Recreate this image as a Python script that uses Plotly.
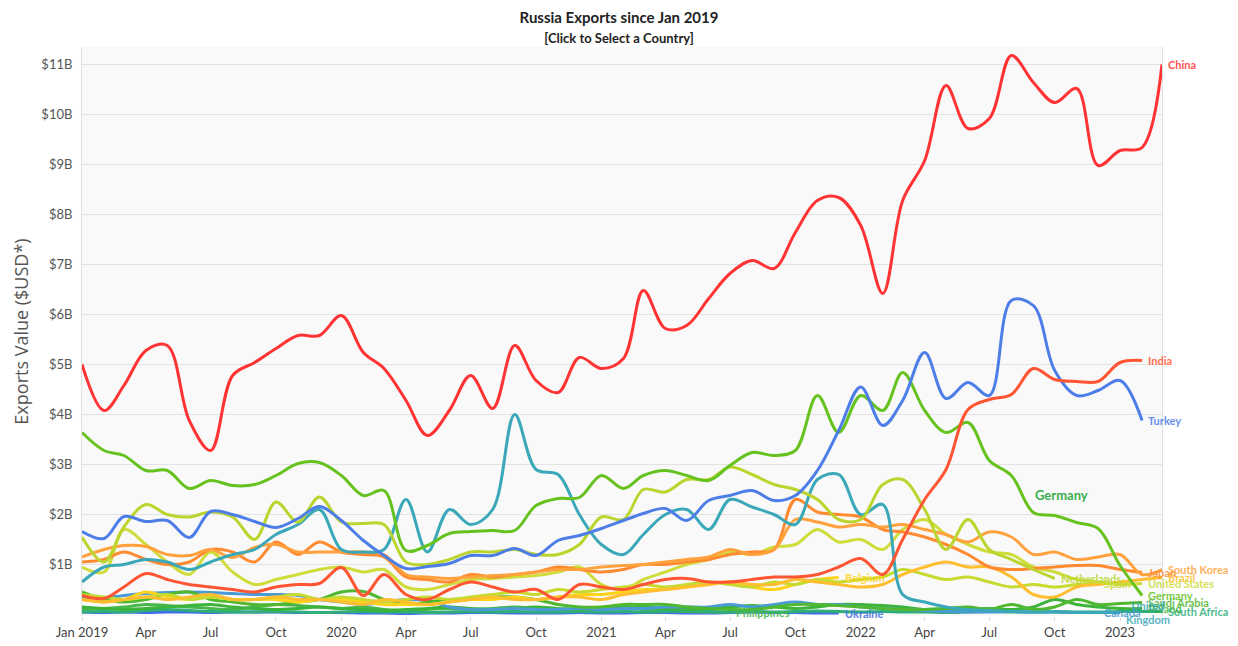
import pandas as pd
import plotly.graph_objects as go

# ---- data (USD billions, monthly from Jan 2019) ----
china = [5.0,4.08,4.58,5.28,5.38,3.88,3.28,4.78,5.04,5.32,5.58,5.58,5.98,5.24,4.92,4.28,3.58,4.08,4.78,4.12,5.38,4.68,4.44,5.14,
         4.92,5.12,6.48,5.72,5.78,6.32,6.82,7.08,6.92,7.64,8.28,8.34,7.78,6.42,8.28,9.08,10.58,9.72,9.92,11.18,10.64,10.24,10.52,8.98,
         9.28,9.34,11.0]
india = [0.38,0.32,0.55,0.82,0.7,0.6,0.55,0.5,0.45,0.55,0.6,0.62,0.94,0.38,0.8,0.4,0.3,0.5,0.65,0.55,0.45,0.5,0.3,0.6,
         0.55,0.5,0.6,0.7,0.72,0.65,0.65,0.7,0.75,0.75,0.8,0.95,1.12,0.8,1.5,2.3,2.9,4.1,4.3,4.4,4.92,4.7,4.66,4.66,5.04,5.08]
turkey = [1.66,1.52,1.96,1.86,1.88,1.54,2.06,2.0,1.86,1.74,1.92,2.16,1.88,1.48,1.18,0.92,0.96,1.02,1.18,1.18,1.32,1.18,1.48,1.58,
          1.72,1.88,2.02,2.12,1.88,2.28,2.38,2.48,2.28,2.38,2.88,3.68,4.55,3.78,4.28,5.24,4.32,4.64,4.38,6.28,6.18,4.88,4.38,4.48,4.68,3.88]
germany = [3.64,3.28,3.18,2.88,2.88,2.52,2.68,2.58,2.6,2.78,3.02,3.04,2.78,2.38,2.48,1.28,1.38,1.62,1.66,1.68,1.68,2.18,2.32,2.34,
           2.78,2.52,2.78,2.88,2.78,2.68,2.98,3.24,3.18,3.28,4.38,3.64,4.38,4.08,4.84,4.08,3.64,3.84,3.08,2.78,2.04,1.98,1.84,1.72,0.98,0.38]
netherlands = [1.55,1.05,1.75,2.2,2.0,1.95,2.05,1.95,1.5,2.25,1.85,2.35,1.85,1.82,1.8,1.05,1.0,1.1,1.25,1.25,1.3,1.2,1.2,1.4,
               1.95,1.9,2.5,2.45,2.7,2.7,2.95,2.8,2.6,2.5,2.3,1.9,1.9,2.6,2.7,2.1,1.3,1.9,1.3,1.1,0.9,0.72]
united_states = [0.95,0.85,1.7,1.4,1.05,0.8,1.25,0.85,0.6,0.7,0.8,0.9,0.95,0.85,0.9,0.55,0.5,0.6,0.7,0.72,0.75,0.78,0.85,0.95,
                 0.6,0.5,0.7,0.85,1.0,1.1,1.25,1.2,1.35,1.4,1.7,1.45,1.5,1.3,1.7,1.9,1.6,1.4,1.25,1.2,0.95,0.85,0.7,0.65,0.6,0.62]
spain = [0.4,0.35,0.3,0.35,0.4,0.3,0.35,0.3,0.3,0.35,0.4,0.3,0.35,0.3,0.25,0.3,0.35,0.3,0.35,0.4,0.45,0.4,0.5,0.45,
         0.5,0.55,0.6,0.55,0.6,0.65,0.6,0.55,0.65,0.6,0.7,0.65,0.7,0.75,0.9,0.8,0.7,0.75,0.65,0.55,0.6,0.55,0.6,0.62]
south_korea = [1.15,1.3,1.38,1.36,1.2,1.18,1.3,1.14,1.34,1.4,1.25,1.25,1.25,1.25,1.2,0.8,0.75,0.72,0.75,0.78,0.8,0.85,0.9,0.9,
               0.95,0.98,1.0,1.05,1.1,1.15,1.3,1.2,1.3,1.9,1.85,1.75,1.8,1.75,1.8,1.7,1.6,1.45,1.65,1.55,1.2,1.25,1.1,1.15,1.2,0.8,0.9]
japan = [1.05,1.1,1.25,1.1,1.0,1.05,1.3,1.25,1.05,1.45,1.2,1.45,1.25,1.2,1.15,0.75,0.7,0.65,0.8,0.75,0.8,0.85,0.95,0.9,
         0.85,0.9,1.0,1.0,1.05,1.1,1.2,1.25,1.3,2.3,2.05,2.0,1.95,1.7,1.65,1.55,1.4,1.2,0.95,0.9,0.92,0.95,0.98,0.98,0.9,0.84]
brazil = [0.3,0.25,0.3,0.35,0.3,0.35,0.4,0.3,0.3,0.35,0.3,0.3,0.25,0.2,0.3,0.25,0.2,0.25,0.3,0.35,0.3,0.3,0.35,0.35,
          0.3,0.4,0.45,0.5,0.55,0.6,0.65,0.6,0.6,0.7,0.65,0.6,0.55,0.6,0.8,0.95,1.05,0.95,0.95,0.75,0.4,0.35,0.55,0.6,0.65,0.7,0.74]
belgium = [0.3,0.25,0.3,0.45,0.35,0.3,0.35,0.3,0.3,0.3,0.25,0.3,0.3,0.25,0.2,0.2,0.2,0.25,0.3,0.3,0.35,0.3,0.35,0.4,
           0.4,0.45,0.5,0.5,0.55,0.6,0.65,0.55,0.5,0.6,0.7,0.74]
united_kingdom = [0.65,0.95,1.0,1.1,1.05,0.9,1.05,1.2,1.3,1.6,1.8,2.1,1.3,1.25,1.3,2.3,1.25,2.1,1.8,2.1,4.0,2.9,2.8,2.0,
                  1.4,1.2,1.6,2.0,2.1,1.7,2.3,2.15,2.0,1.8,2.7,2.8,2.0,2.2,0.4,0.25,0.15,0.1,0.08,0.06,0.05,0.05,0.04,0.04,0.04]
canada = [0.35,0.33,0.38,0.42,0.44,0.45,0.44,0.42,0.4,0.4,0.38,0.3,0.25,0.2,0.25,0.3,0.28,0.15,0.1,0.1,0.12,0.1,0.1,0.12,
          0.1,0.12,0.12,0.15,0.15,0.15,0.2,0.15,0.2,0.25,0.2,0.2,0.15,0.12,0.1,0.08,0.06,0.05,0.05,0.06,0.05,0.05,0.04,0.04]
saudi_arabia = [0.45,0.3,0.25,0.3,0.4,0.45,0.3,0.25,0.2,0.2,0.25,0.3,0.45,0.46,0.3,0.2,0.25,0.3,0.32,0.35,0.35,0.3,0.2,0.15,
                0.15,0.2,0.2,0.2,0.15,0.12,0.1,0.1,0.15,0.2,0.2,0.18,0.15,0.12,0.1,0.1,0.12,0.15,0.1,0.2,0.1,0.15,0.3,0.2,0.22,0.24]
poland = [0.15,0.12,0.1,0.12,0.15,0.18,0.2,0.15,0.12,0.1,0.12,0.15,0.12,0.1,0.08,0.1,0.12,0.15,0.12,0.1,0.12,0.15,0.12,0.1,
          0.12,0.15,0.15,0.12,0.1,0.12,0.15,0.18,0.15,0.12,0.15,0.2,0.2,0.18,0.15,0.1,0.08,0.1,0.12,0.1,0.15,0.3,0.2,0.15,0.12,0.12]
south_africa = [0.05,0.06,0.05,0.08,0.1,0.08,0.06,0.05,0.05,0.06,0.05,0.04,0.05,0.06,0.05,0.05,0.04,0.05,0.06,0.05,0.06,0.05,0.05,0.06,
                0.05,0.06,0.05,0.06,0.07,0.06,0.05,0.06,0.05,0.06,0.07,0.06,0.05,0.06,0.05,0.05,0.04,0.05,0.06,0.05,0.05,0.06,0.05,0.05,0.06,0.06,0.06]
philippines = [0.1,0.12,0.15,0.2,0.18,0.15,0.12,0.1,0.15,0.2,0.18,0.15,0.12,0.15,0.1,0.08,0.1,0.12,0.1,0.12,0.15,0.12,0.1,0.08,
               0.1,0.12,0.1,0.08,0.06,0.05,0.05]
ukraine = [0.05,0.04,0.05,0.04,0.05,0.05,0.04,0.05,0.05,0.05,0.04,0.04,0.04,0.03,0.03,0.02,0.03,0.03,0.04,0.04,0.03,0.03,0.03,0.04,
           0.03,0.03,0.04,0.04,0.03,0.03,0.04,0.05,0.04,0.04,0.03,0.03]

# name, values, colour  (drawn in this order)
series = [
    ("Ukraine", ukraine, "#3f6ee8"),
    ("Philippines", philippines, "#48b84c"),
    ("South Africa", south_africa, "#2fae7a"),
    ("Poland", poland, "#3cb43c"),
    ("Canada", canada, "#4a9ad6"),
    ("Saudi Arabia", saudi_arabia, "#50b830"),
    ("Belgium", belgium, "#ffd31a"),
    ("Spain", spain, "#c6da30"),
    ("Brazil", brazil, "#ffbe30"),
    ("United States", united_states, "#cfdc3a"),
    ("Japan", japan, "#ff8a30"),
    ("South Korea", south_korea, "#ffa23e"),
    ("United<br>Kingdom", united_kingdom, "#3aa8b8"),
    ("Netherlands", netherlands, "#bcd52e"),
    ("Germany", germany, "#66c21f"),
    ("Turkey", turkey, "#4d7ee8"),
    ("India", india, "#ff5533"),
    ("China", china, "#ff3333"),
]

tick_dates = pd.date_range("2019-01-01", "2023-01-01", freq="3MS")
tick_text = ["Jan 2019", "Apr", "Jul", "Oct", "2020", "Apr", "Jul", "Oct", "2021", "Apr", "Jul", "Oct",
             "2022", "Apr", "Jul", "Oct", "2023"]
y_ticks = list(range(1, 12))
y_text = [f"${v}B" for v in y_ticks]

fig = go.Figure()
annotations = []
for name, vals, col in series:
    dates = pd.date_range("2019-01-01", periods=len(vals), freq="MS")
    fig.add_trace(go.Scatter(x=dates, y=vals, mode="lines", name=name.replace("<br>", " "),
                             line=dict(color=col, width=3, shape="spline", smoothing=1.0),
                             showlegend=False))
    annotations.append(dict(x=dates[-1], y=vals[-1], xref="x", yref="y", text=f"<b>{name}</b>",
                            showarrow=False, xanchor="left", xshift=4, yanchor="middle",
                            font=dict(family="Lato, sans-serif", size=11, color=col), opacity=0.85))

annotations.append(dict(x=pd.Timestamp("2022-10-10"), y=2.4, xref="x", yref="y", text="<b>Germany</b>",
                        showarrow=False, font=dict(family="Lato, sans-serif", size=13, color="#3aaf4c")))

fig.update_layout(
    width=1238, height=646,
    margin=dict(l=82, r=76, t=47, b=30, autoexpand=False),
    paper_bgcolor="white", plot_bgcolor="#f9f9f9",
    title=dict(text="<b>Russia Exports since Jan 2019</b><br><span style='font-size:13px'><b>[Click to Select a Country]</b></span>",
               x=0.5, xanchor="center", y=0.964, yanchor="top",
               font=dict(family="Lato, sans-serif", size=15, color="#222")),
    font=dict(family="Lato, sans-serif", color="#555"),
    annotations=annotations,
)
fig.update_xaxes(range=[pd.Timestamp("2019-01-01"), pd.Timestamp("2023-03-01")],
                 tickvals=tick_dates, ticktext=tick_text, showgrid=False, zeroline=False, automargin=False,
                 ticks="outside", ticklen=4, tickcolor="#dddddd", tickfont=dict(size=13, color="#444"))
fig.update_yaxes(range=[-0.03, 11.35], tickvals=y_ticks, ticktext=y_text, showgrid=True, automargin=False,
                 gridcolor="#e3e3e3", gridwidth=1, zeroline=False, showline=True, mirror=True,
                 linecolor="#e0e0e0", ticks="", ticklabelstandoff=6,
                 tickfont=dict(size=13, color="#555"),
                 title=dict(text="Exports Value ($USD*)", font=dict(family="Open Sans, sans-serif", size=18, color="#555"),
                            standoff=8))

fig.write_html("out.html", config={"displayModeBar": False},
               post_script="document.body.style.margin='0px';")
